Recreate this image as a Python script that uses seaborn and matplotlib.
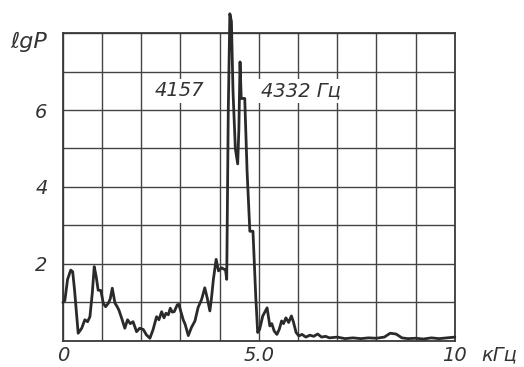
import matplotlib
matplotlib.use("Agg")
import matplotlib.pyplot as plt
import seaborn as sns
import pandas as pd

# Spectrum: frequency (kHz) vs lg P
freq_khz = [0.00, 0.05, 0.12, 0.20, 0.25, 0.30, 0.39, 0.48, 0.56, 0.63,
            0.69, 0.75, 0.80, 0.85, 0.90, 0.97, 1.03, 1.09, 1.16, 1.21,
            1.26, 1.33, 1.38, 1.43, 1.50, 1.58, 1.65, 1.72, 1.79, 1.88,
            1.96, 2.05, 2.13, 2.22, 2.30, 2.39, 2.45, 2.52, 2.58, 2.63,
            2.69, 2.74, 2.79, 2.84, 2.92, 2.96, 3.00, 3.07, 3.12, 3.20,
            3.28, 3.37, 3.45, 3.54, 3.62, 3.68, 3.75, 3.79, 3.84, 3.91,
            3.97, 4.05, 4.15, 4.18, 4.22, 4.26, 4.30, 4.34, 4.40, 4.46,
            4.49, 4.52, 4.55, 4.64, 4.70, 4.77, 4.85, 4.92, 4.97, 5.02,
            5.10, 5.21, 5.28, 5.33, 5.39, 5.46, 5.52, 5.58, 5.63, 5.69,
            5.76, 5.83, 5.88, 5.95, 6.02, 6.10, 6.20, 6.30, 6.40, 6.50,
            6.60, 6.70, 6.80, 7.00, 7.20, 7.40, 7.60, 7.80, 8.00, 8.20,
            8.35, 8.50, 8.65, 8.80, 9.00, 9.20, 9.40, 9.60, 9.80, 10.00]
lg_p = [1.00, 1.05, 1.60, 1.84, 1.80, 1.30, 0.20, 0.33, 0.55, 0.50,
        0.63, 1.24, 1.93, 1.67, 1.32, 1.31, 0.98, 0.89, 0.98, 1.10,
        1.37, 0.98, 0.90, 0.80, 0.59, 0.33, 0.55, 0.45, 0.50, 0.24,
        0.33, 0.30, 0.16, 0.07, 0.29, 0.63, 0.55, 0.76, 0.60, 0.72,
        0.68, 0.85, 0.75, 0.76, 0.94, 0.95, 0.80, 0.55, 0.43, 0.14,
        0.35, 0.52, 0.87, 1.08, 1.38, 1.13, 0.78, 1.10, 1.60, 2.12,
        1.82, 1.90, 1.84, 1.60, 6.00, 8.50, 8.30, 6.50, 5.00, 4.60,
        5.50, 7.25, 6.30, 6.30, 4.40, 2.85, 2.85, 1.17, 0.22, 0.30,
        0.65, 0.86, 0.39, 0.45, 0.26, 0.17, 0.30, 0.52, 0.45, 0.60,
        0.48, 0.65, 0.50, 0.22, 0.13, 0.17, 0.10, 0.15, 0.12, 0.18,
        0.10, 0.12, 0.08, 0.10, 0.06, 0.08, 0.06, 0.08, 0.07, 0.10,
        0.20, 0.18, 0.08, 0.06, 0.07, 0.05, 0.08, 0.06, 0.08, 0.10]

x_labels = ["0", "", "", "", "", "5.0", "", "", "", "", "10"]
y_labels = ["", "", "2", "", "4", "", "6", "", ""]

df = pd.DataFrame({"freq": freq_khz, "lgp": lg_p})

sns.set_style("white")
plt.rcParams["font.family"] = ["DejaVu Sans"]

fig = plt.figure(figsize=(5.24, 3.67), dpi=100)
ax = fig.add_axes([0.120, 0.071, 0.748, 0.839])

sns.lineplot(data=df, x="freq", y="lgp", ax=ax, sort=False, estimator=None,
             color="#2a2a2a", linewidth=2.0, clip_on=False, zorder=3)

ax.set_xlim(0, 10)
ax.set_ylim(0, 8)
ax.set_xticks(range(11))
ax.set_xticklabels(x_labels, fontsize=14, style="italic", color="#333333")
ax.set_yticks(range(9))
ax.set_yticklabels(y_labels, fontsize=14, style="italic", color="#333333")
ax.tick_params(length=0)
ax.tick_params(axis="y", pad=11)
ax.tick_params(axis="x", pad=4)
ax.grid(True, color="#444444", linewidth=1.0)
for s in ax.spines.values():
    s.set_color("#3a3a3a")
    s.set_linewidth(1.3)
ax.set_xlabel("")
ax.set_ylabel("")

# peak annotations sit on white patches that break the grid
box = dict(facecolor="white", edgecolor="none", pad=2)
ax.text(2.98, 6.5, "4157", fontsize=14, style="italic", color="#333333",
        ha="center", va="center", zorder=4, bbox=box)
ax.text(5.05, 6.5, "4332 Гц", fontsize=14, style="italic", color="#333333",
        ha="left", va="center", zorder=4, bbox=box)

fig.text(0.055, 0.886, "ℓgP", fontsize=16, style="italic", color="#333333",
         ha="center", va="center")
fig.text(0.952, 0.032, "кГц", fontsize=14, style="italic", color="#333333",
         ha="center", va="center")

fig.savefig("out.png", dpi=100, facecolor="white")
